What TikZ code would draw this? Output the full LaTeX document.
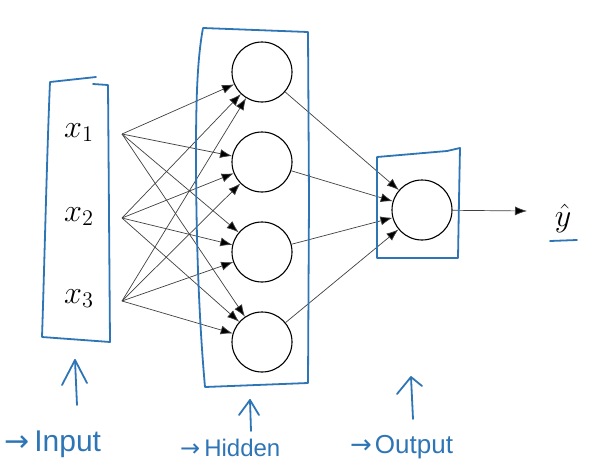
\documentclass[tikz,border=0pt]{standalone}
\usepackage{graphicx}
\usepackage{fontspec}
\setmainfont{Liberation Sans}
\newfontfamily\symfont{DejaVu Sans}
\usetikzlibrary{arrows.meta}
\definecolor{pen}{RGB}{46,117,182}
\newcommand{\bigmath}[1]{\scalebox{1.55}{\fontsize{20}{22}\selectfont$#1$}}
\begin{document}
\begin{tikzpicture}[x=1pt,y=-1pt,
  neuron/.style={circle,draw=black,line width=1.1pt,minimum size=60pt,inner sep=0pt},
  conn/.style={draw=black!75,line width=0.7pt,-{Latex[length=12pt,width=9pt,fill=black]}},
  pen/.style={draw=pen,line width=1.8pt,line cap=round,line join=round},
  lbl/.style={text=pen,anchor=base west,inner sep=0pt},
  xlbl/.style={anchor=base west,inner sep=0pt}]
\useasboundingbox (0,0) rectangle (589,464);

% input labels and connector start points
\node[xlbl] (x1) at (64,137) {\bigmath{x_1}};
\node[xlbl] (x2) at (64,221) {\bigmath{x_2}};
\node[xlbl] (x3) at (64,303) {\bigmath{x_3}};
\coordinate (i1) at (122,134);
\coordinate (i2) at (122,218);
\coordinate (i3) at (122,301);

% hidden layer
\node[neuron] (h1) at (262,72) {};
\node[neuron] (h2) at (262,162) {};
\node[neuron] (h3) at (262,252) {};
\node[neuron] (h4) at (262,342) {};

% output
\node[neuron] (o) at (422,210) {};
\coordinate (yt) at (527,211);
\node[inner sep=0pt,anchor=base] (yhat) at (563,226) {\bigmath{\hat{y}}};

\foreach \i in {1,2,3}{\foreach \j in {1,2,3,4}{\draw[conn] (i\i) -- (h\j);}}
\foreach \j in {1,2,3,4}{\draw[conn] (h\j) -- (o);}
\draw[conn] (o) -- (yt);

% underline of y hat
\coordinate (u1) at (550,241);
\coordinate (u2) at (577,240);
\draw[pen] (u1) -- (u2);

% blue boxes
\draw[pen] (96,77) -- (50,82) .. controls (47,150) and (44,280) .. (42,337)
  -- (110,342) -- (108,85) -- (93,84);
\draw[pen] (203,28) -- (308,32) -- (309,200) -- (308,383) -- (205,387)
  .. controls (199,320) and (196,240) .. (196,150)
  .. controls (196,80) and (199,50) .. (203,28);
\draw[pen] (377,157) -- (447,151) -- (460,148) -- (459,200) -- (458,258) -- (377,258) -- cycle;

% up arrows
\coordinate (a1t) at (75,360);
\draw[pen] (77,405) -- (a1t);
\draw[pen] (62,385) -- (a1t) -- (87,383);
\coordinate (a2t) at (250,400);
\draw[pen] (251,431) -- (a2t);
\draw[pen] (239,415) -- (a2t) -- (259,415);
\coordinate (a3t) at (411,377);
\draw[pen] (413,419) -- (a3t);
\draw[pen] (397,394) -- (a3t) -- (422,386);

% labels
\node[lbl,font=\fontsize{30}{32}\selectfont] (lin) at (4,451) {{\symfont →}\hspace{5pt}Input};
\node[lbl,font=\fontsize{24}{26}\selectfont] (lhid) at (180,456) {{\symfont →}\hspace{4pt}Hidden};
\node[lbl,font=\fontsize{26}{28}\selectfont] (lout) at (350,453) {{\symfont →}\hspace{3pt}Output};
\end{tikzpicture}
\end{document}
